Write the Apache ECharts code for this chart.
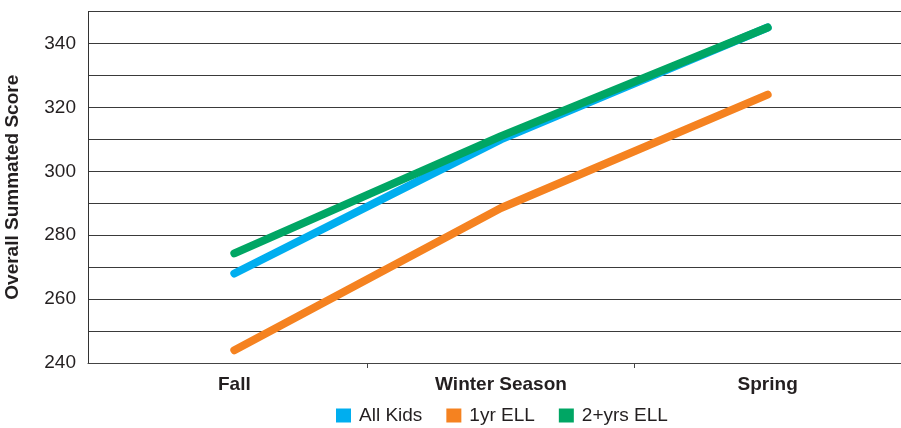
<!DOCTYPE html>
<html>
<head>
<meta charset="utf-8">
<script src="https://cdn.jsdelivr.net/npm/echarts@6/dist/echarts.min.js"></script>
<style>
html,body{margin:0;padding:0;background:#fff;}
#c{width:901px;height:428px;}
</style>
</head>
<body>
<div id="c"></div>
<script>
var categories = ['Fall', 'Winter Season', 'Spring'];
var allKids = [268, 310, 345];
var oneYrELL = [244, 288.5, 324];
var twoPlusELL = [274.3, 311, 345];
var seriesNames = ['All Kids', '1yr ELL', '2+yrs ELL'];
var yMin = 240, yMax = 350, yStep = 10;

var FONT = '"Liberation Sans", Arial, Helvetica, sans-serif';
var chart = echarts.init(document.getElementById('c'));
var gridTop = 11.5, gridBottom = 65;
chart.setOption({
  animation: false,
  color: ['#00AEEF', '#F58220', '#00A664'],
  textStyle: {fontFamily: FONT},
  legend: {
    data: seriesNames,
    top: 406,
    left: 336,
    padding: 0,
    icon: 'rect',
    itemWidth: 15,
    itemHeight: 14,
    itemGap: 24,
    textStyle: {fontSize: 19, color: '#231F20', fontFamily: FONT, padding: [0, 0, 0, 3]}
  },
  grid: [
    {left: 101, right: 0, top: gridTop, bottom: gridBottom},
    {left: 88, width: 14, top: gridTop, bottom: gridBottom}
  ],
  xAxis: [
    {
      type: 'category', gridIndex: 0, data: categories, boundaryGap: true,
      axisLine: {lineStyle: {color: '#444', width: 1}},
      axisTick: {show: true, length: 5, lineStyle: {color: '#444'}, interval: function (i) { return i > 0; }},
      axisLabel: {fontSize: 19, fontWeight: 'bold', color: '#231F20', margin: 12, fontFamily: FONT}
    },
    {
      type: 'value', gridIndex: 1, min: 0, max: 1,
      axisLine: {show: true, lineStyle: {color: '#444', width: 1}},
      axisTick: {show: false}, axisLabel: {show: false}, splitLine: {show: false}
    }
  ],
  yAxis: [
    {
      type: 'value', gridIndex: 0, min: yMin, max: yMax, interval: yStep,
      axisLine: {show: false}, axisTick: {show: false}, axisLabel: {show: false},
      splitLine: {show: true, lineStyle: {color: '#3a3a3a', width: 1}}
    },
    {
      type: 'value', gridIndex: 1, min: yMin, max: yMax, interval: yStep,
      name: 'Overall Summated Score', nameLocation: 'middle', nameGap: 66,
      nameTextStyle: {fontSize: 19, fontWeight: 'bold', color: '#231F20', fontFamily: FONT},
      axisLine: {show: true, lineStyle: {color: '#333', width: 1}},
      axisTick: {show: false},
      axisLabel: {
        fontSize: 19, color: '#231F20', margin: 12, fontFamily: FONT,
        formatter: function (v) { return (v % 20 === 0 && v < yMax) ? String(v) : ''; }
      },
      splitLine: {show: true, lineStyle: {color: '#3a3a3a', width: 1}}
    }
  ],
  series: [
    {name: seriesNames[0], type: 'line', data: allKids, xAxisIndex: 0, yAxisIndex: 0,
     symbol: 'none', lineStyle: {width: 8, cap: 'round', join: 'round'}},
    {name: seriesNames[1], type: 'line', data: oneYrELL, xAxisIndex: 0, yAxisIndex: 0,
     symbol: 'none', lineStyle: {width: 8, cap: 'round', join: 'round'}},
    {name: seriesNames[2], type: 'line', data: twoPlusELL, xAxisIndex: 0, yAxisIndex: 0,
     symbol: 'none', lineStyle: {width: 8, cap: 'round', join: 'round'}}
  ]
});
</script>
</body>
</html>
